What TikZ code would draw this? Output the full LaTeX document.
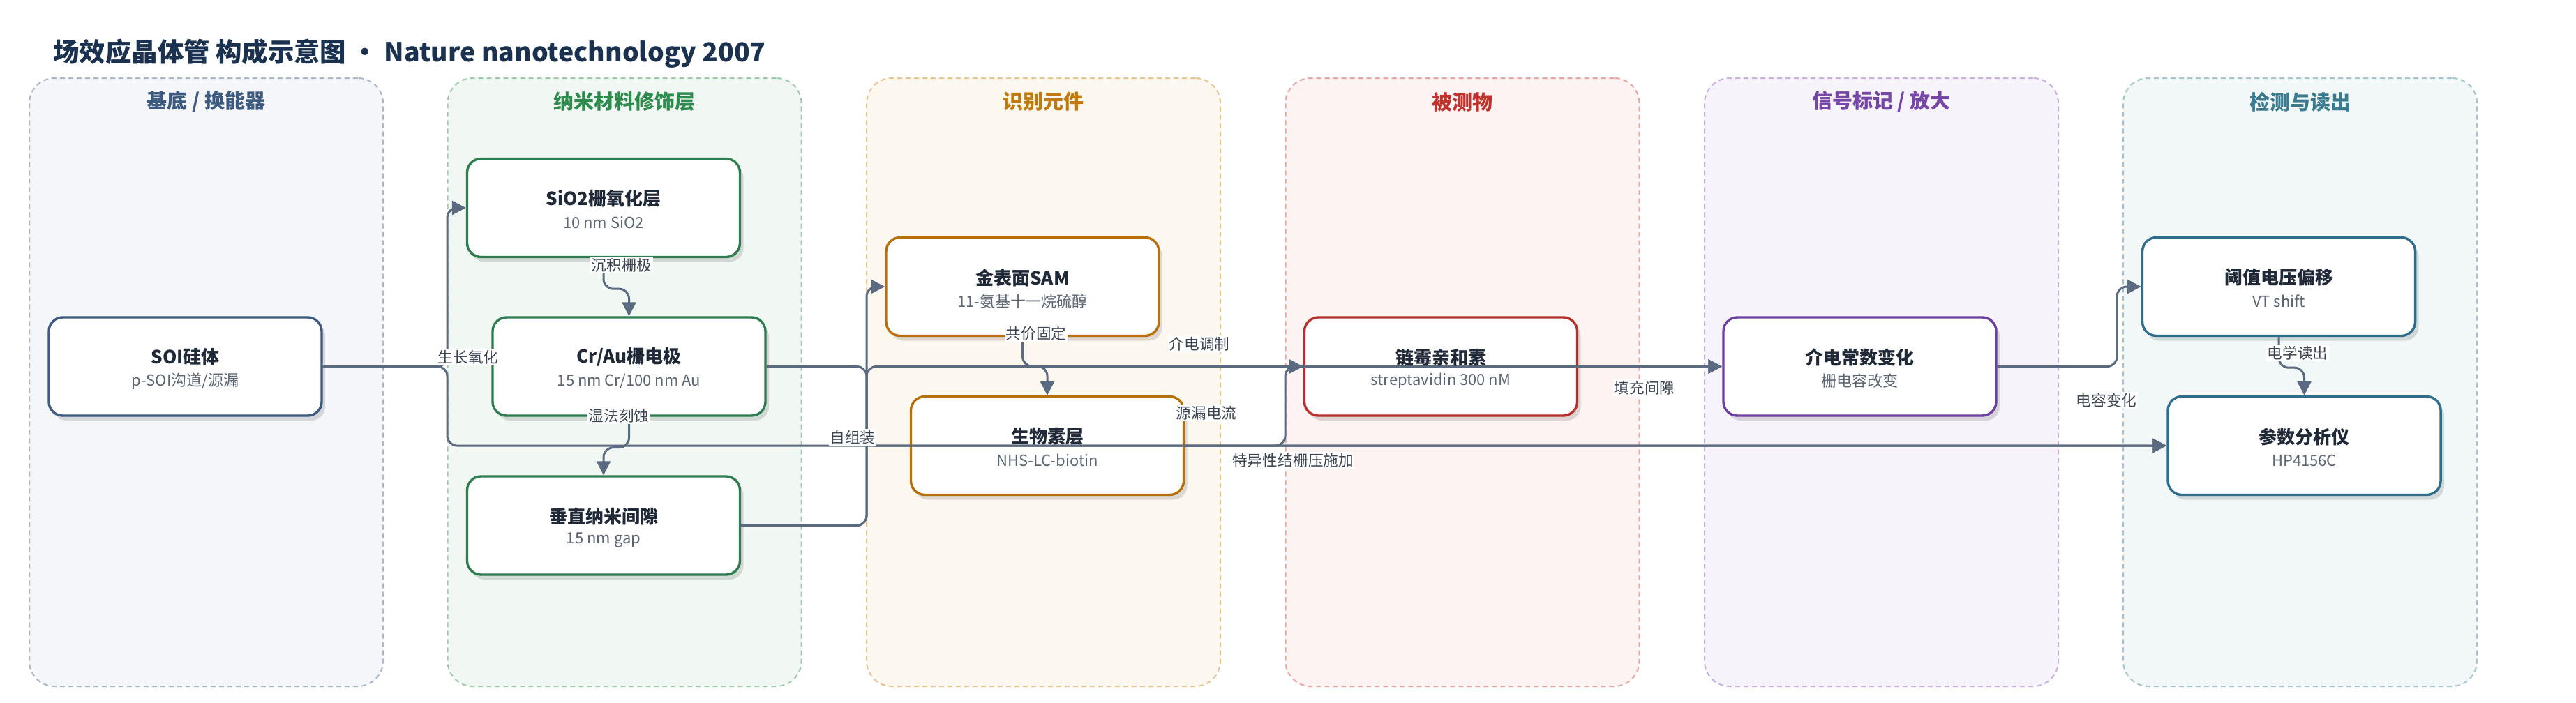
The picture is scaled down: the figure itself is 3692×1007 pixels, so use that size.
\documentclass[tikz,border=0pt]{standalone}
\usepackage{fontspec}
\setmainfont{Noto Sans CJK SC}
\usetikzlibrary{arrows.meta,shadows,calc}
\definecolor{titc}{HTML}{1B3150}
\definecolor{nodet}{HTML}{1F2937}
\definecolor{subc}{HTML}{5B6573}
\definecolor{labc}{HTML}{3B4452}
\definecolor{edgec}{HTML}{5A6A80}
% lanes
\definecolor{laF}{HTML}{F4F6FA}\definecolor{laD}{HTML}{A9B7C9}\definecolor{laH}{HTML}{3D5A80}
\definecolor{lbF}{HTML}{F1F8F3}\definecolor{lbD}{HTML}{9FCBAD}\definecolor{lbH}{HTML}{2E8B4E}
\definecolor{lcF}{HTML}{FDF8EF}\definecolor{lcD}{HTML}{EAC48E}\definecolor{lcH}{HTML}{C07A0C}
\definecolor{ldF}{HTML}{FDF3F2}\definecolor{ldD}{HTML}{E9A3A0}\definecolor{ldH}{HTML}{C0322B}
\definecolor{leF}{HTML}{F7F3FB}\definecolor{leD}{HTML}{C9AEE3}\definecolor{leH}{HTML}{7646A8}
\definecolor{lfF}{HTML}{F2F7F8}\definecolor{lfD}{HTML}{A3C4D0}\definecolor{lfH}{HTML}{3B7B90}
% node borders
\definecolor{bA}{HTML}{3D5A80}
\definecolor{bB}{HTML}{2E7D4F}
\definecolor{bC}{HTML}{B8700C}
\definecolor{bD}{HTML}{B8302A}
\definecolor{bE}{HTML}{6E3FA0}
\definecolor{bF}{HTML}{2E6E8C}
\begin{document}
\begin{tikzpicture}[x=0.5pt,y=-0.5pt,
  lanebox/.style={draw=#1, dash pattern=on 3.5pt off 2.5pt, line width=1pt, rounded corners=18pt,
    minimum width=253.5pt, minimum height=436pt, inner sep=0pt},
  hdr/.style={font=\fontsize{14.5}{17}\selectfont\bfseries, text=#1, inner sep=0pt},
  box/.style={draw=#1, fill=white, line width=1.7pt, rounded corners=10pt,
    minimum width=195.5pt, minimum height=70.5pt, inner sep=0pt,
    drop shadow={shadow xshift=2.5pt,shadow yshift=-3.5pt,opacity=0.13,fill=black}},
  ttl/.style={font=\fontsize{13}{15}\selectfont\bfseries, text=nodet, inner sep=0pt},
  subt/.style={font=\fontsize{11}{13}\selectfont, text=subc, inner sep=0pt},
  edge/.style={draw=edgec, line width=1.5pt, rounded corners=7pt, -{Triangle[length=10pt,width=10pt]}},
  elab/.style={font=\fontsize{10.8}{12}\selectfont, text=labc, fill=white, inner sep=1pt},
]
\useasboundingbox (0,0) rectangle (3692,1007);
\fill[white] (0,0) rectangle (3692,1007);

% title
\node[anchor=west, font=\fontsize{18.7}{22}\selectfont\bfseries, text=titc, inner sep=0pt] (title) at (76,77)
  {场效应晶体管 构成示意图 · Nature nanotechnology 2007};

% lanes
\node[lanebox=laD, fill=laF] (lane1) at (295.5,548) {};
\node[lanebox=lbD, fill=lbF] (lane2) at (895,548) {};
\node[lanebox=lcD, fill=lcF] (lane3) at (1495.5,548) {};
\node[lanebox=ldD, fill=ldF] (lane4) at (2096,548) {};
\node[lanebox=leD, fill=leF] (lane5) at (2696.5,548) {};
\node[lanebox=lfD, fill=lfF] (lane6) at (3296.5,548) {};
\node[hdr=laH] (h1) at (295.5,146) {基底 / 换能器};
\node[hdr=lbH] (h2) at (895,146) {纳米材料修饰层};
\node[hdr=lcH] (h3) at (1495.5,146) {识别元件};
\node[hdr=ldH] (h4) at (2096,146) {被测物};
\node[hdr=leH] (h5) at (2696.5,146) {信号标记 / 放大};
\node[hdr=lfH] (h6) at (3296.5,146) {检测与读出};

% boxes
\node[box=bA] (soi)   at (265.5,525.5) {};
\node[box=bB] (sio2)  at (865,298) {};
\node[box=bB] (crau)  at (901.5,525.5) {};
\node[box=bB] (gap)   at (865,753.5) {};
\node[box=bC] (sam)   at (1465.5,411) {};
\node[box=bC] (bio)   at (1501,639) {};
\node[box=bD] (strep) at (2065,525.5) {};
\node[box=bE] (diel)  at (2665.5,525.5) {};
\node[box=bF] (vt)    at (3266,411) {};
\node[box=bF] (param) at (3302.5,639) {};

% bus coordinates
\coordinate (busA) at (641,0);
\coordinate (busB) at (1242,0);
\coordinate (busC) at (1842,0);
\coordinate (busD) at (3034,0);

% edges
\draw[edge] (soi.east) -| (busA |- sio2.west) -- (sio2.west);
\draw[edge] (soi.east) -| (busA |- param.west) -- (param.west);
\draw[edge] (sio2.south) -- ++(0,44) -| (crau.north);
\draw[edge] (crau.south) -- ++(0,44) -| (gap.north);
\draw[edge] (crau.east) -| (busB |- param.west) -- (param.west);
\draw[edge] (gap.east) -| (busB |- sam.west) -- (sam.west);
\draw[edge] (gap.east) -| (busB |- diel.west) -- (diel.west);
\draw[edge] (sam.south) -- ++(0,42) -| (bio.north);
\draw[edge] (bio.east) -| (busC |- strep.west) -- (strep.west);
\draw[edge] (strep.east) -- (diel.west);
\draw[edge] (diel.east) -| (busD |- vt.west) -- (vt.west);
\draw[edge] (vt.south) -- ++(0,44) -| (param.north);

% box texts
\node[ttl]  (soi-t)   at ($(soi)+(0,-14)$)   {SOI硅体};
\node[subt] (soi-s)   at ($(soi)+(0,21)$)    {p-SOI沟道/源漏};
\node[ttl]  (sio2-t)  at ($(sio2)+(0,-13)$)  {SiO2栅氧化层};
\node[subt] (sio2-s)  at ($(sio2)+(0,21)$)   {10 nm SiO2};
\node[ttl]  (crau-t)  at ($(crau)+(0,-14)$)  {Cr/Au栅电极};
\node[subt] (crau-s)  at ($(crau)+(0,21)$)   {15 nm Cr/100 nm Au};
\node[ttl]  (gap-t)   at ($(gap)+(0,-13)$)   {垂直纳米间隙};
\node[subt] (gap-s)   at ($(gap)+(0,21)$)    {15 nm gap};
\node[ttl]  (sam-t)   at ($(sam)+(0,-13)$)   {金表面SAM};
\node[subt] (sam-s)   at ($(sam)+(0,21)$)    {11-氨基十一烷硫醇};
\node[ttl]  (bio-t)   at ($(bio)+(0,-13)$)   {生物素层};
\node[subt] (bio-s)   at ($(bio)+(0,21)$)    {NHS-LC-biotin};
\node[ttl]  (strep-t) at ($(strep)+(0,-13)$) {链霉亲和素};
\node[subt] (strep-s) at ($(strep)+(0,21)$)  {streptavidin 300 nM};
\node[ttl]  (diel-t)  at ($(diel)+(0,-13)$)  {介电常数变化};
\node[subt] (diel-s)  at ($(diel)+(0,21)$)   {栅电容改变};
\node[ttl]  (vt-t)    at ($(vt)+(0,-13)$)    {阈值电压偏移};
\node[subt] (vt-s)    at ($(vt)+(0,21)$)     {VT shift};
\node[ttl]  (param-t) at ($(param)+(0,-13)$) {参数分析仪};
\node[subt] (param-s) at ($(param)+(0,21)$)  {HP4156C};

% edge labels
\node[elab] (l1)  at (671,512)   {生长氧化};
\node[elab] (l2)  at (891,380)   {沉积栅极};
\node[elab] (l3)  at (887,596)   {湿法刻蚀};
\node[elab] (l4)  at (1222,627)  {自组装};
\node[elab] (l5)  at (1485,478)  {共价固定};
\node[elab] (l12) at (1719,493)  {介电调制};
\node[elab] (l10) at (1729,592)  {源漏电流};
\node[elab, anchor=east, inner xsep=0pt] (l6)  at (1853,660)  {特异性结};
\node[elab, anchor=west, inner xsep=0pt] (l11) at (1853,660)  {栅压施加};
\node[elab] (l7)  at (2357,556)  {填充间隙};
\node[elab] (l8)  at (3019,574)  {电容变化};
\node[elab] (l9)  at (3293,506)  {电学读出};
\end{tikzpicture}
\end{document}
